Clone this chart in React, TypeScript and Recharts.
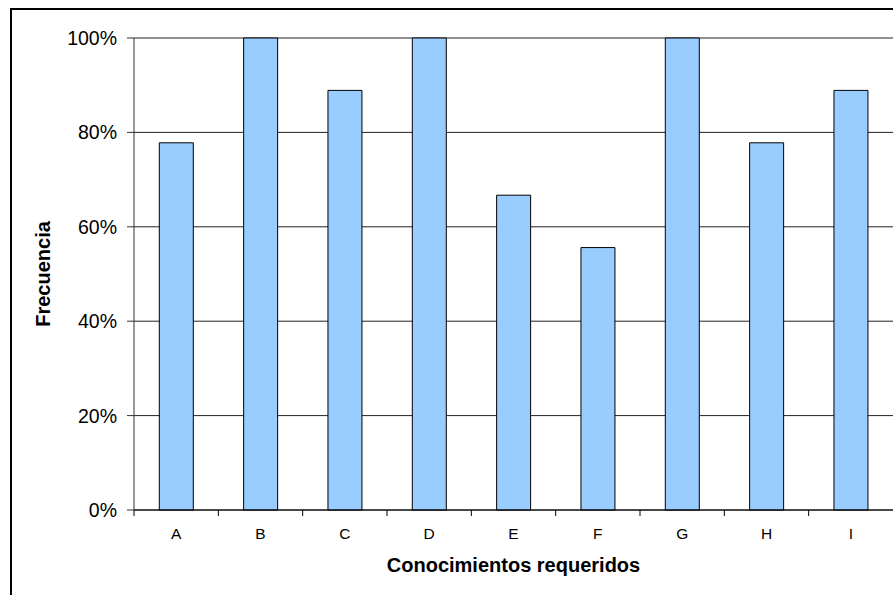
import { BarChart, Bar, XAxis, YAxis, CartesianGrid } from 'recharts';

const categories = ['A', 'B', 'C', 'D', 'E', 'F', 'G', 'H', 'I'];
const frecuencia = [77.8, 100, 88.9, 100, 66.7, 55.6, 100, 77.8, 88.9];
const yTicks = [0, 20, 40, 60, 80, 100];

const data = categories.map((name, i) => ({ name, value: frecuencia[i] }));

const FONT = 'Arial, "Liberation Sans", sans-serif';

function CategoryTick(props: any) {
  const { x, y, payload } = props;
  const off = payload.offset ?? 0;
  return (
    <g>
      <line x1={x - off} y1={y} x2={x - off} y2={y + 6} stroke="#000" strokeWidth={1} />
      <text
        x={x}
        y={y + 18}
        dy="0.71em"
        textAnchor="middle"
        fontSize={15.5}
        fontFamily={FONT}
        fill="#000"
      >
        {payload.value}
      </text>
    </g>
  );
}

export default function App() {
  return (
    <div
      style={{
        position: 'fixed',
        left: 10,
        top: 8,
        width: 883,
        height: 587,
        borderLeft: '2px solid #000',
        borderTop: '2px solid #000',
        overflow: 'hidden',
        background: '#fff',
      }}
    >
      <BarChart
        width={900}
        height={600}
        data={data}
        margin={{ top: 28, right: 19, bottom: 40, left: 0 }}
        barCategoryGap="30%"
      >
        <CartesianGrid vertical={false} stroke="#222" />
        <XAxis
          dataKey="name"
          height={60}
          tickLine={false}
          tickSize={0}
          tickMargin={0}
          axisLine={{ stroke: '#000' }}
          tick={<CategoryTick />}
          interval={0}
          label={{
            value: 'Conocimientos requeridos',
            position: 'insideTop',
            offset: 48,
            fontSize: 20,
            fontWeight: 'bold',
            fontFamily: FONT,
            fill: '#000',
          }}
        />
        <YAxis
          width={122}
          domain={[0, 100]}
          ticks={yTicks}
          tickFormatter={(v: number) => `${v}%`}
          tickSize={7}
          tickMargin={10}
          tick={{ fontSize: 19.5, fontFamily: FONT, fill: '#000' }}
          tickLine={{ stroke: '#333' }}
          axisLine={{ stroke: '#333' }}
          label={{
            value: 'Frecuencia',
            angle: -90,
            position: 'center',
            dx: -30,
            fontSize: 20,
            fontWeight: 'bold',
            fontFamily: FONT,
            fill: '#000',
          }}
        />
        <Bar
          dataKey="value"
          fill="#99CCFF"
          stroke="#000"
          strokeWidth={1}
          isAnimationActive={false}
        />
      </BarChart>
    </div>
  );
}
